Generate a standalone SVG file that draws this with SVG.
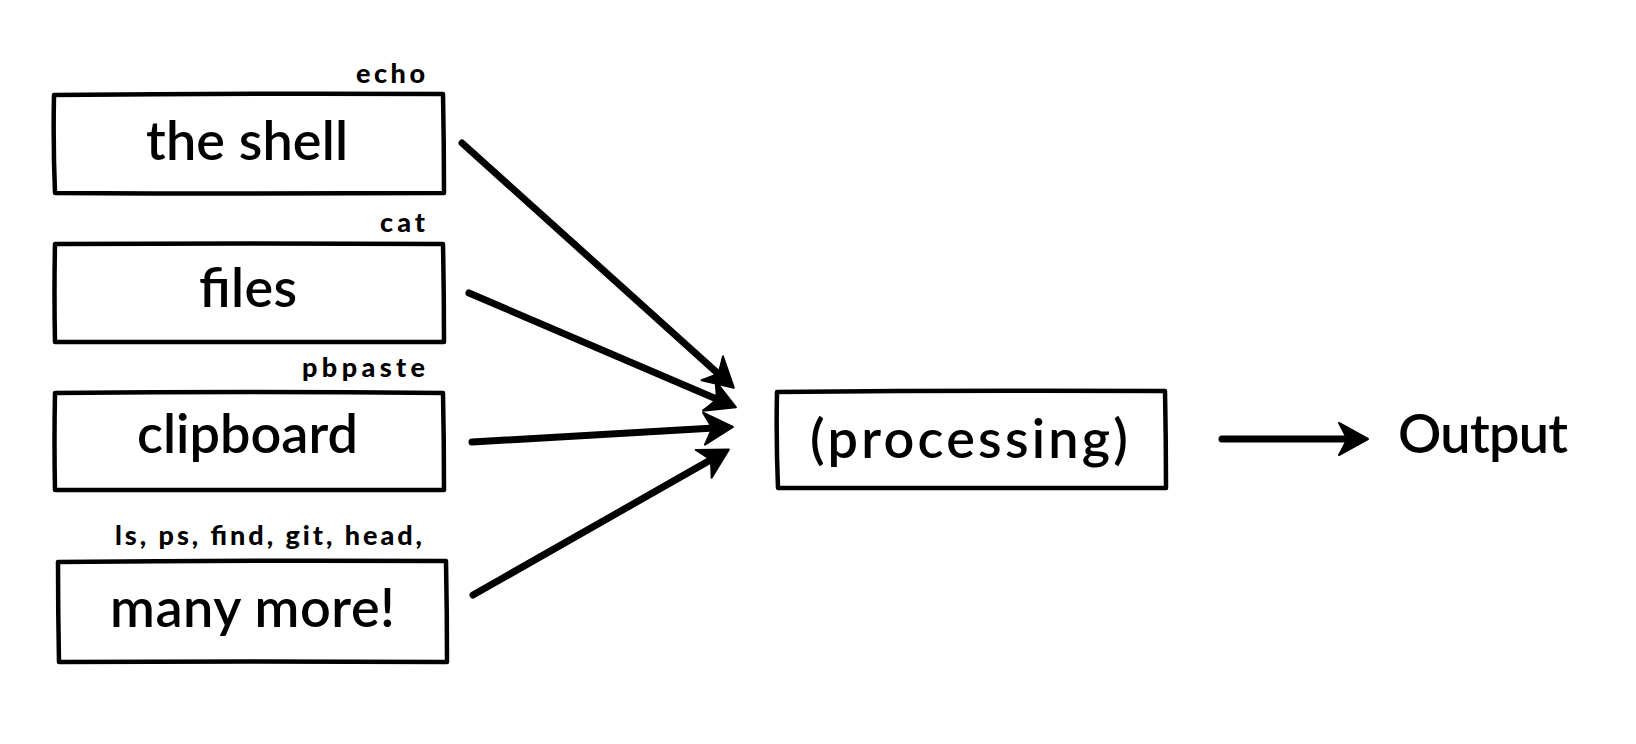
<svg xmlns="http://www.w3.org/2000/svg" width="1636" height="744" viewBox="0 0 1636 744">
  <style>
    .box { fill: #ffffff; stroke: #000; stroke-width: 4.5; stroke-linejoin: round; stroke-linecap: round; }
    .main { font-family: Lato, "Liberation Sans", sans-serif; font-weight: 600; font-size: 54px; fill: #000; }
    .cmd { font-family: Lato, "Liberation Sans", sans-serif; font-weight: 900; font-size: 27px; fill: #000; }
    .edge { fill: none; stroke: #000; stroke-width: 7; stroke-linecap: round; }
  </style>
  <defs>
    <marker id="head" markerUnits="userSpaceOnUse" markerWidth="44" markerHeight="44" viewBox="-12 -22 44 44" refX="0" refY="0" orient="auto">
      <path d="M23,0 L-6,-16 Q0,-5 2,0 Q0,5 -6,16 Z" fill="#000" stroke="#000" stroke-width="2" stroke-linejoin="round"/>
    </marker>
  </defs>
  <rect width="1636" height="744" fill="#ffffff"/>

  <!-- input sources, each with the command that produces it -->
  <g id="shell">
    <path class="box" d="M54,95 Q250,93 443,94 Q444,145 444,193 Q250,194 55,193 Q53,145 54,95 Z"/>
    <text class="main" x="146" y="160" textLength="202" lengthAdjust="spacing">the shell</text>
    <text class="cmd" x="356" y="83" textLength="69" lengthAdjust="spacing">echo</text>
  </g>

  <g id="files">
    <path class="box" d="M55,244 Q250,243 443,244 Q444,293 444,342 Q250,342 55,342 Q54,293 55,244 Z"/>
    <text class="main" x="199" y="307" textLength="98" lengthAdjust="spacing">files</text>
    <text class="cmd" x="380" y="232" textLength="45" lengthAdjust="spacing">cat</text>
  </g>

  <g id="clipboard">
    <path class="box" d="M55,393 Q250,391 443,393 Q444,441 444,490 Q250,490 55,490 Q54,441 55,393 Z"/>
    <text class="main" x="137" y="453" textLength="221" lengthAdjust="spacing">clipboard</text>
    <text class="cmd" x="302" y="377" textLength="123" lengthAdjust="spacing">pbpaste</text>
  </g>

  <g id="more">
    <path class="box" d="M58,562 Q250,560 446,561 Q447,612 447,662 Q250,661 59,662 Q58,612 58,562 Z"/>
    <text class="main" x="110" y="627" textLength="285" lengthAdjust="spacing">many more!</text>
    <text class="cmd" x="115" y="545" textLength="307" lengthAdjust="spacing">ls, ps, find, git, head,</text>
  </g>

  <g id="processing">
    <path class="box" d="M777,392 Q970,390 1165,391 Q1166,440 1166,488 Q970,488 778,488 Q776,440 777,392 Z"/>
    <text class="main" x="810" y="458" textLength="318" lengthAdjust="spacing">(processing)</text>
  </g>

  <g id="output">
    <text class="main" x="1398" y="453" font-size="48" textLength="170" lengthAdjust="spacing">Output</text>
  </g>

  <g id="connectors">
    <line class="edge" x1="462" y1="143" x2="716.7" y2="372.3" marker-end="url(#head)"/>
    <line class="edge" x1="469" y1="293" x2="714.8" y2="398.3" marker-end="url(#head)"/>
    <line class="edge" x1="472" y1="442" x2="710" y2="428.3" marker-end="url(#head)"/>
    <line class="edge" x1="473" y1="595" x2="708.9" y2="460.9" marker-end="url(#head)"/>
    <line class="edge" x1="1222" y1="439" x2="1345" y2="439" marker-end="url(#head)"/>
  </g>
</svg>
